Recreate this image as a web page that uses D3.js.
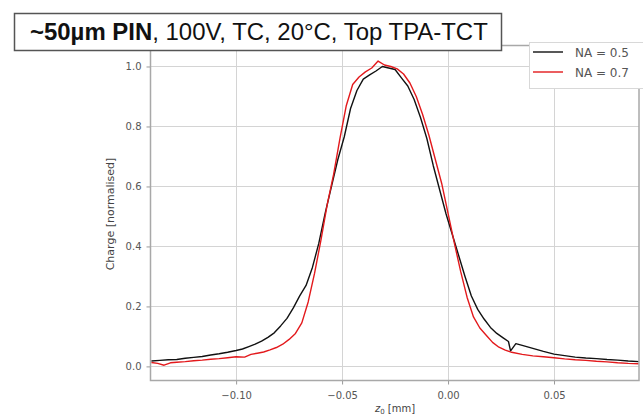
<!DOCTYPE html>
<html>
<head>
<meta charset="utf-8">
<script src="https://cdn.jsdelivr.net/npm/d3@7"></script>
<style>
  body { margin: 0; background: #fff; }
  svg { display: block; font-family: "Liberation Sans", Arial, sans-serif; }
</style>
</head>
<body>
<div id="graphic"></div>
<script>
// NA = 0.5 (black)
var xNA05 = [-0.140,-0.136,-0.132,-0.128,-0.124,-0.120,-0.116,-0.112,-0.108,-0.104,-0.100,-0.097,-0.094,-0.091,-0.088,-0.085,-0.082,-0.079,-0.076,-0.073,-0.070,-0.067,-0.064,-0.061,-0.058,-0.055,-0.052,-0.049,-0.046,-0.043,-0.040,-0.037,-0.034,-0.031,-0.028,-0.025,-0.022,-0.019,-0.016,-0.013,-0.010,-0.007,-0.004,-0.001,0.002,0.005,0.008,0.011,0.014,0.017,0.020,0.023,0.026,0.0285,0.0295,0.032,0.035,0.040,0.045,0.050,0.055,0.060,0.065,0.070,0.075,0.080,0.085,0.090];
var yNA05 = [0.018,0.020,0.022,0.023,0.027,0.030,0.033,0.038,0.042,0.047,0.053,0.058,0.066,0.074,0.084,0.097,0.112,0.135,0.160,0.195,0.235,0.270,0.330,0.410,0.510,0.600,0.690,0.765,0.860,0.920,0.958,0.972,0.985,1.000,0.995,0.990,0.962,0.935,0.890,0.830,0.760,0.670,0.590,0.510,0.440,0.370,0.300,0.235,0.190,0.158,0.130,0.110,0.095,0.083,0.052,0.076,0.070,0.060,0.050,0.041,0.036,0.031,0.028,0.026,0.023,0.021,0.018,0.016];

// NA = 0.7 (red)
var xNA07 = [-0.140,-0.137,-0.134,-0.131,-0.128,-0.124,-0.120,-0.116,-0.112,-0.108,-0.104,-0.100,-0.096,-0.093,-0.090,-0.087,-0.084,-0.081,-0.078,-0.075,-0.072,-0.069,-0.066,-0.063,-0.060,-0.057,-0.054,-0.051,-0.048,-0.045,-0.042,-0.039,-0.036,-0.033,-0.030,-0.027,-0.024,-0.021,-0.018,-0.015,-0.012,-0.009,-0.006,-0.003,0.000,0.003,0.006,0.009,0.012,0.015,0.018,0.021,0.024,0.027,0.030,0.035,0.040,0.045,0.050,0.055,0.060,0.065,0.070,0.075,0.080,0.085,0.090];
var yNA07 = [0.013,0.010,0.004,0.012,0.014,0.016,0.019,0.021,0.024,0.026,0.029,0.032,0.031,0.040,0.044,0.048,0.055,0.063,0.074,0.090,0.110,0.145,0.215,0.310,0.420,0.540,0.640,0.760,0.870,0.940,0.965,0.982,0.995,1.018,1.005,1.000,0.992,0.975,0.945,0.900,0.840,0.770,0.690,0.610,0.510,0.410,0.315,0.230,0.165,0.128,0.104,0.080,0.064,0.054,0.047,0.040,0.035,0.032,0.029,0.025,0.022,0.020,0.017,0.015,0.012,0.010,0.009];

var seriesNames = ["NA = 0.5", "NA = 0.7"];
var seriesColors = ["#111111", "#e3191c"];
var xTicks = [-0.10, -0.05, 0.00, 0.05];
var yTicks = [0.0, 0.2, 0.4, 0.6, 0.8, 1.0];
var titleBold = "~50\u00b5m PIN";
var titleRest = ", 100V, TC, 20\u00b0C, Top TPA-TCT";

var width = 643, height = 417;
var margin = {left: 150.5, right: 4, top: 45.5, bottom: 36.5};

var svg = d3.select("#graphic").append("svg").attr("width", width).attr("height", height);

var x = d3.scaleLinear().domain([-0.1404, 0.0901]).range([margin.left, width - margin.right]);
var y = d3.scaleLinear().domain([-0.047, 1.07]).range([height - margin.bottom, margin.top]);

var fmt = function(d) { return d3.format(".2f")(d).replace("-", "\u2212"); };

// grid
var grid = svg.append("g");
grid.selectAll("line.gx").data(xTicks).enter().append("line")
  .attr("x1", function(d) { return Math.round(x(d)) + 0.5; })
  .attr("x2", function(d) { return Math.round(x(d)) + 0.5; })
  .attr("y1", y.range()[1]).attr("y2", y.range()[0])
  .attr("stroke", "#d4d4d4").attr("stroke-width", 1);
grid.selectAll("line.gy").data(yTicks).enter().append("line")
  .attr("y1", function(d) { return Math.round(y(d)) + 0.5; })
  .attr("y2", function(d) { return Math.round(y(d)) + 0.5; })
  .attr("x1", x.range()[0]).attr("x2", x.range()[1])
  .attr("stroke", "#d4d4d4").attr("stroke-width", 1);

// curves
var line = d3.line().x(function(d) { return x(d[0]); }).y(function(d) { return y(d[1]); });
var data = [d3.zip(xNA05, yNA05), d3.zip(xNA07, yNA07)];
svg.append("g").selectAll("path").data(data).enter().append("path")
  .attr("d", line)
  .attr("fill", "none")
  .attr("stroke", function(d, i) { return seriesColors[i]; })
  .attr("stroke-width", 1.4)
  .attr("stroke-linejoin", "round");

// axes
var xAxis = svg.append("g").attr("transform", "translate(0," + (height - margin.bottom) + ")")
  .call(d3.axisBottom(x).tickValues(xTicks).tickFormat(fmt).tickSize(4).tickPadding(7));
var yAxis = svg.append("g").attr("transform", "translate(" + margin.left + ",0)")
  .call(d3.axisLeft(y).tickValues(yTicks).tickFormat(d3.format(".1f")).tickSize(4).tickPadding(5));
[xAxis, yAxis].forEach(function(a) {
  a.select(".domain").remove();
  a.selectAll(".tick line").attr("stroke", "#9a9a9a");
  a.selectAll(".tick text").attr("fill", "#555").attr("font-size", 10).attr("font-family", "DejaVu Sans, sans-serif");
});

// frame
svg.append("rect")
  .attr("x", x.range()[0]).attr("y", y.range()[1])
  .attr("width", x.range()[1] - x.range()[0]).attr("height", y.range()[0] - y.range()[1])
  .attr("fill", "none").attr("stroke", "#a8a8a8").attr("stroke-width", 1.5);

// axis labels
svg.append("text")
  .attr("x", 395).attr("y", 412)
  .attr("text-anchor", "middle").attr("font-size", 10).attr("fill", "#444")
  .attr("font-family", "DejaVu Sans, sans-serif")
  .html("<tspan font-style='italic'>z</tspan><tspan font-size='7' dy='2'>0</tspan><tspan dy='-2'> [mm]</tspan>");
svg.append("text")
  .attr("transform", "translate(114," + 214 + ") rotate(-90)")
  .attr("text-anchor", "middle").attr("font-size", 11).attr("fill", "#444")
  .attr("font-family", "DejaVu Sans, sans-serif")
  .text("Charge [normalised]");

// legend
var legend = svg.append("g");
legend.append("rect")
  .attr("x", 529.5).attr("y", 42.5).attr("width", 130).attr("height", 46)
  .attr("fill", "#fff").attr("stroke", "#d8d8d8").attr("stroke-width", 1);
seriesNames.forEach(function(name, i) {
  var ly = 52 + i * 20;
  legend.append("line")
    .attr("x1", 533).attr("x2", 563).attr("y1", ly).attr("y2", ly)
    .attr("stroke", seriesColors[i]).attr("stroke-width", 1.4);
  legend.append("text")
    .attr("x", 575).attr("y", ly + 4.5)
    .attr("font-size", 12).attr("fill", "#555")
    .attr("font-family", "DejaVu Sans, sans-serif")
    .text(name);
});

// title box
var title = svg.append("g");
title.append("rect")
  .attr("x", 14.5).attr("y", 13.5).attr("width", 487).attr("height", 37)
  .attr("fill", "#fff").attr("stroke", "#555").attr("stroke-width", 1.5);
var tt = title.append("text")
  .attr("x", 30).attr("y", 40)
  .attr("font-size", 21).attr("fill", "#111");
tt.append("tspan").attr("font-weight", "bold").text(titleBold);
tt.append("tspan").text(titleRest);
var tw = tt.node().getComputedTextLength();
tt.attr("font-size", 21 * 458 / tw);
</script>
</body>
</html>
